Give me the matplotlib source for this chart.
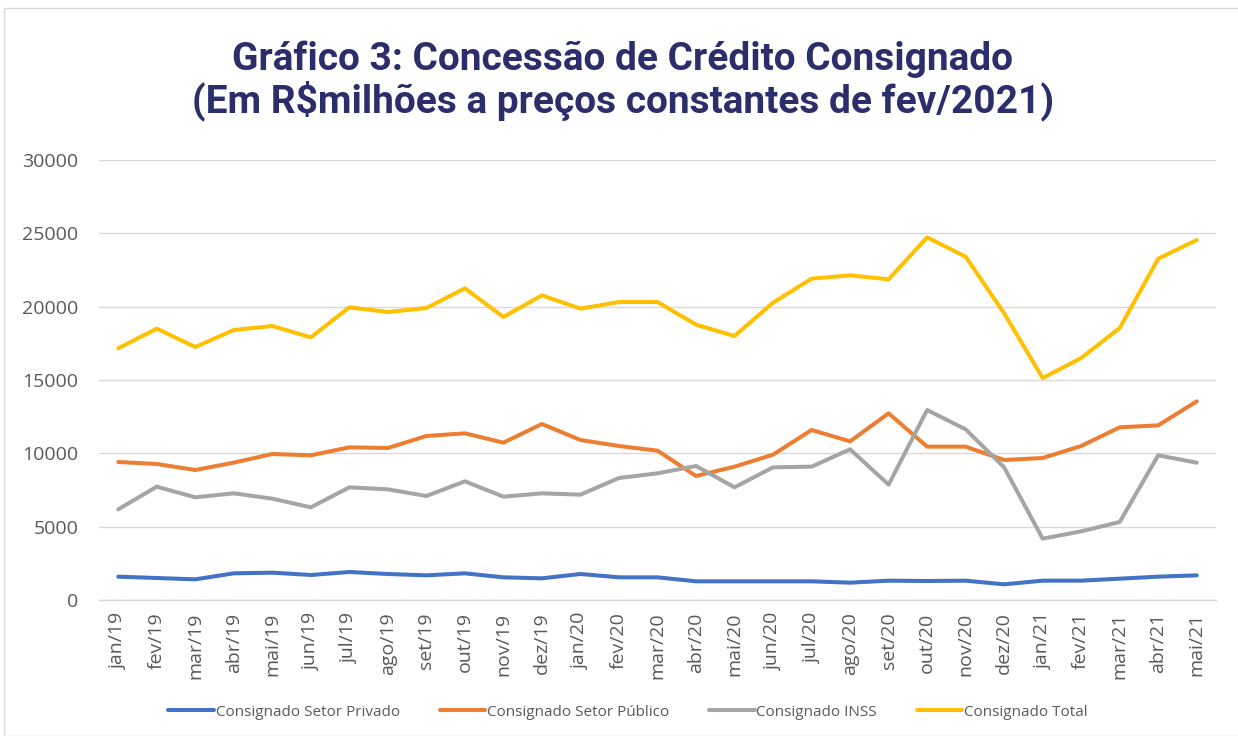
import matplotlib
matplotlib.use("Agg")
import matplotlib.pyplot as plt
from matplotlib.patches import Rectangle

months = ["jan/19", "fev/19", "mar/19", "abr/19", "mai/19", "jun/19", "jul/19", "ago/19",
          "set/19", "out/19", "nov/19", "dez/19", "jan/20", "fev/20", "mar/20", "abr/20",
          "mai/20", "jun/20", "jul/20", "ago/20", "set/20", "out/20", "nov/20", "dez/20",
          "jan/21", "fev/21", "mar/21", "abr/21", "mai/21"]

privado = [1591, 1500, 1409, 1818, 1864, 1705, 1909, 1773, 1682, 1818, 1545, 1477, 1773, 1545,
           1545, 1273, 1273, 1273, 1273, 1182, 1318, 1295, 1318, 1068, 1318, 1318, 1455, 1591, 1682]
publico = [9409, 9273, 8864, 9364, 9955, 9864, 10409, 10364, 11182, 11364, 10727, 12000, 10909,
           10500, 10182, 8455, 9091, 9909, 11591, 10818, 12727, 10455, 10455, 9545, 9682, 10500,
           11773, 11909, 13545]
inss = [6182, 7727, 7000, 7273, 6909, 6318, 7682, 7545, 7091, 8091, 7045, 7273, 7182, 8318,
        8636, 9136, 7682, 9045, 9091, 10273, 7864, 12955, 11636, 9045, 4182, 4682, 5318, 9864, 9364]
total = [17159, 18500, 17250, 18409, 18682, 17909, 19955, 19636, 19909, 21250, 19295, 20773,
         19864, 20318, 20318, 18773, 18000, 20273, 21909, 22136, 21864, 24727, 23409, 19545,
         15136, 16500, 18545, 23273, 24545]

series_names = ["Consignado Setor Privado", "Consignado Setor Público", "Consignado INSS",
                "Consignado Total"]
colors = ["#4472C4", "#ED7D31", "#A5A5A5", "#FFC000"]
yticks = [0, 5000, 10000, 15000, 20000, 25000, 30000]

title = "Gráfico 3: Concessão de Crédito Consignado\n(Em R$milhões a preços constantes de fev/2021)"

plt.rcParams["font.family"] = ["Open Sans", "DejaVu Sans"]

fig = plt.figure(figsize=(12.38, 7.36), dpi=100)
fig.patches.append(Rectangle((4 / 1238, 0), 1.0, 1 - 8 / 736, transform=fig.transFigure,
                             fill=False, edgecolor="#D9D9D9", linewidth=1.0))
ax = fig.add_axes([99 / 1238, 1 - 600 / 736, (1216 - 99) / 1238, 440 / 736])

x = list(range(len(months)))
for vals, name, c in zip([privado, publico, inss, total], series_names, colors):
    ax.plot(x, vals, color=c, linewidth=2.9, label=name, solid_capstyle="round",
            solid_joinstyle="round")

ax.set_xlim(-0.5, len(months) - 0.5)
ax.set_ylim(0, 30000)
ax.set_yticks(yticks)
ax.set_yticklabels([str(v) for v in yticks], fontsize=14, color="#595959")
ax.set_xticks(x)
ax.set_xticklabels(months, rotation=90, fontsize=14, color="#595959")
ax.tick_params(axis="both", length=0)
ax.tick_params(axis="y", pad=15)
ax.tick_params(axis="x", pad=9)
ax.grid(axis="y", color="#D9D9D9", linewidth=1.0)
ax.set_axisbelow(True)
for s in ["top", "right", "left"]:
    ax.spines[s].set_visible(False)
ax.spines["bottom"].set_color("#D9D9D9")
ax.spines["bottom"].set_linewidth(1.0)

fig.text(623 / 1238, 1 - 81 / 736, title, ha="center", va="center", fontsize=28,
         fontweight="bold", color="#2B2E6B", linespacing=1.08, family=["Roboto", "DejaVu Sans"])

leg = fig.legend(loc="center", bbox_to_anchor=(628 / 1238, 1 - 712 / 736), ncol=4,
                 frameon=False, fontsize=11, handlelength=3.0, columnspacing=2.6,
                 handletextpad=0.1)
for t in leg.get_texts():
    t.set_color("#595959")

fig.savefig("out.png", dpi=100)
